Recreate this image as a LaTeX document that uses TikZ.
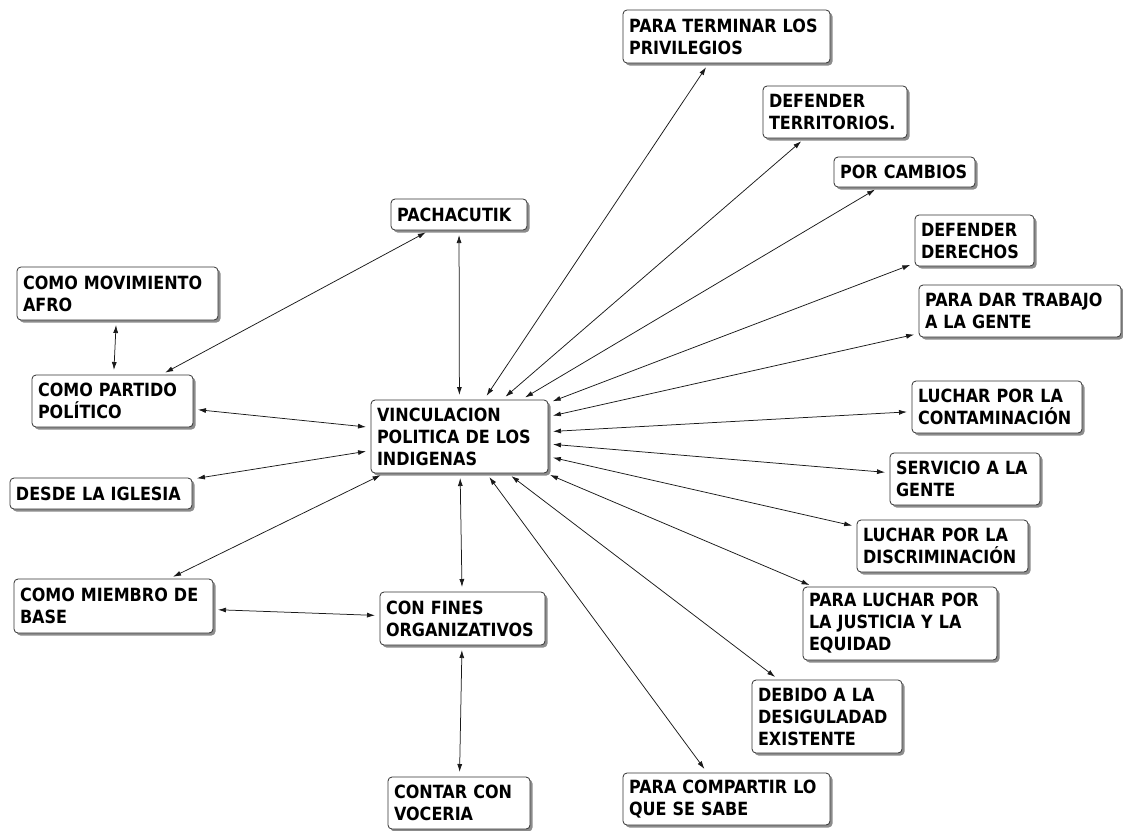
\documentclass[tikz,border=0pt]{standalone}
\usepackage{fontspec}
\newfontfamily\mapfont[FakeStretch=0.88]{DejaVu Sans}
\newcommand{\boxfont}{\mapfont\bfseries\fontsize{18.2}{22}\selectfont}
\usetikzlibrary{arrows.meta}
\usetikzlibrary{shadows}
\hyphenpenalty=10000

\begin{document}
\begin{tikzpicture}[x=1pt,y=-1pt,
	box/.style={draw=black!80, line width=0.8pt, fill=white, rounded corners=4pt,
		anchor=north west, align=left, inner xsep=6pt, inner ysep=0pt, outer sep=0pt,
		font=\boxfont,
		drop shadow={shadow xshift=2.5pt, shadow yshift=-2.5pt, opacity=0.45, fill=black}},
	link/.style={{Latex[length=8pt,width=5pt]}-{Latex[length=8pt,width=5pt]},
		line width=0.75pt, draw=black!90, shorten <=5pt, shorten >=5pt}]
	\useasboundingbox (0,0) rectangle (1123,830);

	% centro
	\node[box, text width=165pt, minimum height=73pt] (vinc) at (371,400) {VINCULACION\\POLITICA DE LOS\\INDIGENAS};

	% derecha
	\node[box, text width=195pt, minimum height=53pt] (term) at (623,10) {PARA TERMINAR LOS\\PRIVILEGIOS};
	\node[box, text width=132pt, minimum height=52pt] (terr) at (763,86) {DEFENDER\\TERRITORIOS.};
	\node[box, text width=129pt, minimum height=30pt] (camb) at (834,157) {POR CAMBIOS};
	\node[box, text width=107pt, minimum height=51pt] (dere) at (915,215) {DEFENDER\\DERECHOS};
	\node[box, text width=190pt, minimum height=52pt] (trab) at (919,285) {PARA DAR TRABAJO\\A LA GENTE};
	\node[box, text width=158pt, minimum height=52pt] (cont) at (912,381) {LUCHAR POR LA\\CONTAMINACIÓN};
	\node[box, text width=138pt, minimum height=52pt] (serv) at (890,453) {SERVICIO A LA\\GENTE};
	\node[box, text width=159pt, minimum height=52pt] (disc) at (857,520) {LUCHAR POR LA\\DISCRIMINACIÓN};
	\node[box, text width=182pt, minimum height=73pt] (just) at (803,587) {PARA LUCHAR POR\\LA JUSTICIA Y LA\\EQUIDAD};
	\node[box, text width=138pt, minimum height=73pt] (desi) at (752,680) {DEBIDO A LA\\DESIGULADAD\\EXISTENTE};
	\node[box, text width=195pt, minimum height=52pt] (comp) at (623,773) {PARA COMPARTIR LO\\QUE SE SABE};

	% abajo e izquierda
	\node[box, text width=130pt, minimum height=52pt] (voce) at (388,777) {CONTAR CON\\VOCERIA};
	\node[box, text width=153pt, minimum height=53pt] (fines) at (380,592) {CON FINES\\ORGANIZATIVOS};
	\node[box, text width=187pt, minimum height=54pt] (base) at (14,579) {COMO MIEMBRO DE\\BASE};
	\node[box, text width=170pt, minimum height=31pt] (igle) at (10,478) {DESDE LA IGLESIA};
	\node[box, text width=149pt, minimum height=52pt] (part) at (32,375) {COMO PARTIDO\\POLÍTICO};
	\node[box, text width=189pt, minimum height=53pt] (afro) at (17,267) {COMO MOVIMIENTO\\AFRO};
	\node[box, text width=124pt, minimum height=31pt] (pach) at (391,199) {PACHACUTIK};

	% conexiones
	\foreach \n in {pach,term,terr,camb,dere,trab,cont,serv,disc,just,desi,comp,fines,base,igle,part}
		\draw[link] (vinc) -- (\n);
	\draw[link] (fines) -- (voce);
	\draw[link] (base) -- (fines);
	\draw[link] (pach) -- (part);
	\draw[link] (afro) -- (part);
\end{tikzpicture}
\end{document}
